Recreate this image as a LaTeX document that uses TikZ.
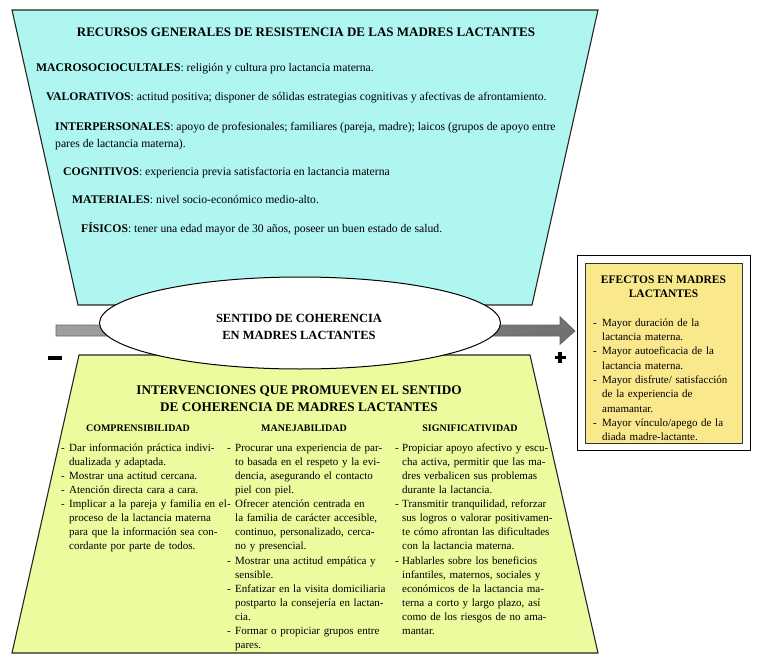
\documentclass[tikz,border=0pt]{standalone}
\usepackage{fontspec}
\setmainfont{Liberation Serif}
\usetikzlibrary{shapes.geometric}
\definecolor{topc}{RGB}{175,245,240}
\definecolor{botc}{RGB}{238,250,158}
\definecolor{effc}{RGB}{250,232,140}
\definecolor{arrL}{RGB}{160,160,160}
\definecolor{arrR}{RGB}{112,112,112}
\newlength\mydw
\newlength\mycw
\newcommand\mystrut{\rule{0pt}{9.5pt}}
\newcommand\bulJ[1]{\noindent\mystrut\makebox[\mydw][l]{-}\makebox[\mycw][s]{#1}\par}
\newcommand\bulL[1]{\noindent\mystrut\makebox[\mydw][l]{-}\makebox[\mycw][l]{#1}\par}
\newcommand\midJ[1]{\noindent\hspace*{\mydw}\makebox[\mycw][s]{#1}\par}
\newcommand\lastL[1]{\noindent\hspace*{\mydw}\makebox[\mycw][l]{#1}\par}
\newcommand\colfont{\fontsize{11}{14.1}\selectfont\spaceskip=0.25em plus 0.3em minus 0.1em\relax}
\begin{document}
\begin{tikzpicture}[x=1pt,y=-1pt,
  trap/.style={draw=black!85, line width=1.1pt, line join=miter},
  body/.style={font=\fontsize{11.7}{14}\selectfont, inner sep=0pt, anchor=base west},
  colsty/.style={font=\colfont, inner sep=0pt, anchor=north west},
  headsty/.style={font=\bfseries\fontsize{10}{12}\selectfont, inner sep=0pt, anchor=base}
]
\useasboundingbox[fill=white] (0,0) rectangle (761,661);
% trapezoids
\coordinate (t1) at (12,10);
\coordinate (t2) at (598,10);
\coordinate (t3) at (532,305);
\coordinate (t4) at (78,305);
\coordinate (b1) at (79,355);
\coordinate (b2) at (530,355);
\coordinate (b3) at (598,653);
\coordinate (b4) at (12,653);
\draw[trap, fill=topc] (t1) -- (t2) -- (t3) -- (t4) -- cycle;
\draw[trap, fill=botc] (b1) -- (b2) -- (b3) -- (b4) -- cycle;
% arrow
\coordinate (a0) at (56,325);
\coordinate (a1) at (560,325);
\coordinate (a2) at (560,316.7);
\coordinate (a3) at (575,331);
\coordinate (a4) at (560,344.3);
\coordinate (a5) at (560,336);
\coordinate (a6) at (56,336);
\draw[draw=black!60, line width=0.7pt, left color=arrL, right color=arrR]
  (a0) -- (a1) -- (a2) -- (a3) -- (a4) -- (a5) -- (a6) -- cycle;
% ellipse
\node[ellipse, draw, fill=white, line width=1pt, minimum width=401pt, minimum height=92pt, inner sep=0pt] (soc) at (300,323) {};
\node[font=\bfseries\fontsize{12.5}{17}\selectfont, align=center, inner sep=0pt] (soct) at (299,326.5) {SENTIDO DE COHERENCIA\\EN MADRES LACTANTES};
% top texts
\node[font=\bfseries\fontsize{13}{15}\selectfont, inner sep=0pt, anchor=base] (ttl) at (306,36.5) {RECURSOS GENERALES DE RESISTENCIA DE LAS MADRES LACTANTES};
\node[body] (macro) at (36,72) {\textbf{MACROSOCIOCULTALES}: religión y cultura pro lactancia materna.};
\node[body] (valor) at (46,101) {\textbf{VALORATIVOS}: actitud positiva; disponer de sólidas estrategias cognitivas y afectivas de afrontamiento.};
\node[body] (inter1) at (55,130.5) {\textbf{INTERPERSONALES}: apoyo de profesionales; familiares (pareja, madre); laicos (grupos de apoyo entre};
\node[body] (inter2) at (55,147) {pares de lactancia materna).};
\node[body] (cogn) at (63,175) {\textbf{COGNITIVOS}: experiencia previa satisfactoria en lactancia materna};
\node[body] (mater) at (72,203) {\textbf{MATERIALES}: nivel socio-económico medio-alto.};
\node[body] (fisic) at (81,232) {\textbf{FÍSICOS}: tener una edad mayor de 30 años, poseer un buen estado de salud.};
% bottom texts
\node[font=\bfseries\fontsize{13.2}{17}\selectfont, align=center, inner sep=0pt, anchor=north] (btl) at (299,384) {\rule{0pt}{10pt}INTERVENCIONES QUE PROMUEVEN EL SENTIDO\\DE COHERENCIA DE MADRES LACTANTES};
\node[headsty] (h1) at (138,431.5) {COMPRENSIBILIDAD};
\node[headsty] (h2) at (304,431.5) {MANEJABILIDAD};
\node[headsty] (h3) at (470,431.5) {SIGNIFICATIVIDAD};
\node[colsty, text width=157pt] (c1) at (61,441.5) {\setlength\mydw{8pt}\setlength\mycw{149pt}%
\bulJ{Dar información práctica indivi-}
\lastL{dualizada y adaptada.}
\bulL{Mostrar una actitud cercana.}
\bulL{Atención directa cara a cara.}
\bulJ{Implicar a la pareja y familia en el}
\midJ{proceso de la lactancia materna}
\midJ{para que la información sea con-}
\lastL{cordante por parte de todos.}};
\node[colsty, text width=157pt] (c2) at (227,441.5) {\setlength\mydw{8pt}\setlength\mycw{149pt}%
\bulJ{Procurar una experiencia de par-}
\midJ{to basada en el respeto y la evi-}
\midJ{dencia, asegurando el contacto}
\lastL{piel con piel.}
\bulJ{Ofrecer atención centrada en}
\midJ{la familia de carácter accesible,}
\midJ{continuo, personalizado, cerca-}
\lastL{no y presencial.}
\bulJ{Mostrar una actitud empática y}
\lastL{sensible.}
\bulJ{Enfatizar en la visita domiciliaria}
\midJ{postparto la consejería en lactan-}
\lastL{cia.}
\bulJ{Formar o propiciar grupos entre}
\lastL{pares.}};
\node[colsty, text width=157pt] (c3) at (395,441.5) {\setlength\mydw{7pt}\setlength\mycw{150pt}%
\bulJ{Propiciar apoyo afectivo y escu-}
\midJ{cha activa, permitir que las ma-}
\midJ{dres verbalicen sus problemas}
\lastL{durante la lactancia.}
\bulJ{Transmitir tranquilidad, reforzar}
\midJ{sus logros o valorar positivamen-}
\midJ{te cómo afrontan las dificultades}
\lastL{con la lactancia materna.}
\bulJ{Hablarles sobre los beneficios}
\midJ{infantiles, maternos, sociales y}
\midJ{económicos de la lactancia ma-}
\midJ{terna a corto y largo plazo, así}
\midJ{como de los riesgos de no ama-}
\lastL{mantar.}};
% right box
\node[draw=black, line width=0.7pt, fill=white, minimum width=173pt, minimum height=195pt, inner sep=0pt, anchor=north west] (effout) at (577,255) {};
\node[draw=black!80, line width=1.3pt, fill=effc, minimum width=157pt, minimum height=180pt, inner sep=0pt, anchor=north west] (effin) at (585,263) {};
\node[font=\bfseries\fontsize{11.5}{14}\selectfont, align=center, inner sep=0pt, anchor=north] (efft) at (663.5,274) {\rule{0pt}{9.5pt}EFECTOS EN MADRES\\LACTANTES};
\node[font=\fontsize{11}{14.3}\selectfont, inner sep=0pt, anchor=north west, text width=149pt] (effl) at (593,316.5) {\setlength\mydw{9pt}\setlength\mycw{140pt}%
\bulL{Mayor duración de la}
\lastL{lactancia materna.}
\bulL{Mayor autoeficacia de la}
\lastL{lactancia materna.}
\bulL{Mayor disfrute/ satisfacción}
\lastL{de la experiencia de}
\lastL{amamantar.}
\bulL{Mayor vínculo/apego de la}
\lastL{diada madre-lactante.}};
% signs
\fill[black] (48.3,356) rectangle (61.7,359.6);
\fill[black] (554.5,355.7) rectangle (565.5,359.3);
\fill[black] (558.2,352) rectangle (561.8,363);
\end{tikzpicture}
\end{document}
